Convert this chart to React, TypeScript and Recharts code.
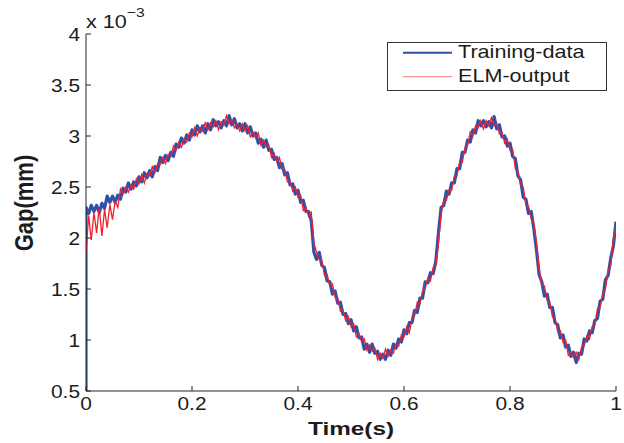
import React from 'react';
import { LineChart, Line, XAxis, YAxis, Legend, Label } from 'recharts';

// sampling grid of the recorded signal (seconds)
const SAMPLE_STEP = 0.005;
const trainingStartValue = 0.5;

// Gap values (x 10^-3 mm)
const trainingData = [
  2.30, 2.24, 2.32, 2.26, 2.32, 2.25, 2.34, 2.29, 2.41, 2.35,
  2.41, 2.35, 2.42, 2.38, 2.49, 2.45, 2.54, 2.48, 2.55, 2.51,
  2.60, 2.55, 2.64, 2.59, 2.66, 2.60, 2.70, 2.66, 2.79, 2.74,
  2.81, 2.76, 2.84, 2.80, 2.92, 2.89, 2.98, 2.93, 3.01, 2.96,
  3.06, 3.01, 3.10, 3.04, 3.10, 3.03, 3.12, 3.06, 3.16, 3.10,
  3.14, 3.08, 3.15, 3.10, 3.20, 3.11, 3.17, 3.08, 3.12, 3.05,
  3.12, 3.03, 3.09, 3.00, 3.03, 2.93, 2.97, 2.89, 2.96, 2.86,
  2.87, 2.77, 2.79, 2.69, 2.73, 2.62, 2.64, 2.52, 2.53, 2.43,
  2.47, 2.35, 2.37, 2.26, 2.26, 2.17, 1.86, 1.79, 1.86, 1.73,
  1.71, 1.58, 1.57, 1.45, 1.48, 1.36, 1.37, 1.25, 1.26, 1.16,
  1.20, 1.09, 1.13, 1.02, 1.03, 0.91, 0.96, 0.88, 0.96, 0.87,
  0.89, 0.81, 0.86, 0.81, 0.90, 0.85, 0.96, 0.92, 1.01, 0.98,
  1.10, 1.06, 1.17, 1.17, 1.29, 1.27, 1.41, 1.41, 1.57, 1.56,
  1.66, 1.65, 1.77, 2.05, 2.30, 2.32, 2.46, 2.43, 2.54, 2.54,
  2.68, 2.68, 2.84, 2.84, 2.96, 2.94, 3.06, 3.03, 3.15, 3.10,
  3.15, 3.09, 3.14, 3.08, 3.19, 3.07, 3.11, 2.99, 3.00, 2.90,
  2.93, 2.80, 2.78, 2.61, 2.57, 2.40, 2.38, 2.24, 2.26, 2.09,
  1.88, 1.64, 1.57, 1.43, 1.45, 1.32, 1.32, 1.17, 1.15, 1.02,
  1.05, 0.93, 0.95, 0.84, 0.88, 0.78, 0.87, 0.86, 1.01, 0.99,
  1.09, 1.07, 1.19, 1.21, 1.38, 1.40, 1.59, 1.63, 1.80, 1.92,
  2.16,
];

const elmOutput = [
  1.85, 2.22, 1.98, 2.25, 2.05, 2.30, 2.02, 2.28, 2.10, 2.33,
  2.18, 2.36, 2.30, 2.48, 2.43, 2.50, 2.45, 2.52, 2.48, 2.58,
  2.53, 2.62, 2.54, 2.63, 2.61, 2.70, 2.64, 2.73, 2.72, 2.79,
  2.73, 2.82, 2.80, 2.90, 2.86, 2.94, 2.89, 2.97, 2.94, 3.03,
  2.99, 3.08, 3.00, 3.08, 3.05, 3.13, 3.06, 3.13, 3.09, 3.15,
  3.06, 3.14, 3.11, 3.20, 3.12, 3.16, 3.08, 3.12, 3.05, 3.12,
  3.05, 3.10, 2.99, 3.04, 2.98, 3.03, 2.91, 2.96, 2.89, 2.91,
  2.79, 2.83, 2.75, 2.79, 2.67, 2.67, 2.55, 2.56, 2.46, 2.50,
  2.40, 2.42, 2.27, 2.30, 2.21, 2.25, 1.95, 1.86, 1.79, 1.78,
  1.63, 1.64, 1.53, 1.55, 1.42, 1.41, 1.28, 1.29, 1.19, 1.23,
  1.13, 1.16, 1.03, 1.06, 0.98, 1.01, 0.90, 0.95, 0.89, 0.92,
  0.81, 0.87, 0.82, 0.91, 0.84, 0.90, 0.87, 0.96, 0.94, 1.05,
  1.03, 1.13, 1.07, 1.21, 1.24, 1.37, 1.35, 1.48, 1.50, 1.61,
  1.58, 1.71, 1.73, 1.95, 2.24, 2.37, 2.37, 2.47, 2.47, 2.61,
  2.61, 2.75, 2.74, 2.88, 2.91, 3.04, 3.00, 3.10, 3.08, 3.15,
  3.07, 3.15, 3.10, 3.18, 3.10, 3.12, 3.02, 3.03, 2.93, 2.97,
  2.86, 2.87, 2.68, 2.65, 2.52, 2.50, 2.32, 2.31, 2.19, 2.14,
  1.95, 1.70, 1.53, 1.53, 1.39, 1.37, 1.23, 1.21, 1.08, 1.09,
  0.98, 1.00, 0.85, 0.88, 0.83, 0.88, 0.81, 0.93, 0.94, 1.04,
  1.01, 1.13, 1.15, 1.31, 1.32, 1.45, 1.50, 1.67, 1.73, 1.99,
  2.09,
];

const xTicks = [0, 0.2, 0.4, 0.6, 0.8, 1];
const yTicks = [0.5, 1, 1.5, 2, 2.5, 3, 3.5, 4];
const seriesNames = ['Training-data', 'ELM-output'];
const xLabel = 'Time(s)';
const yLabel = 'Gap(mm)';
const scaleBase = 'x 10';
const scaleExp = '\u22123';

const BLUE = '#3150a8';
const RED = '#f2202c';
const AXIS = '#262626';
const TEXT = '#1c1c1c';
const FONT = '"Liberation Sans", Arial, Helvetica, sans-serif';

const trainingSeries = [
  { t: 0, v: trainingStartValue },
  ...trainingData.map((v, i) => ({ t: i * SAMPLE_STEP, v })),
];
const elmSeries = elmOutput.map((v, i) => ({ t: i * SAMPLE_STEP, v }));

const XTick = (props: any) => {
  const { x, y, payload } = props;
  return (
    <text
      transform={`translate(${x},${y + 19}) scale(1.16,1)`}
      textAnchor="middle"
      fontSize={18}
      fontFamily={FONT}
      fill={TEXT}
    >
      {String(payload.value)}
    </text>
  );
};

const YTick = (props: any) => {
  const { x, y, payload } = props;
  return (
    <text
      transform={`translate(${x},${y + 6.5}) scale(1.16,1)`}
      textAnchor="end"
      fontSize={18}
      fontFamily={FONT}
      fill={TEXT}
    >
      {String(payload.value)}
    </text>
  );
};

const NoTick = (props: any) => <text x={props.x} y={props.y} fontSize={1} fill="none"></text>;

const LegendBox = () => (
  <svg width={220} height={49} style={{ display: 'block' }}>
    <rect x={0.5} y={0.5} width={219} height={48} fill="#fff" stroke="#333" strokeWidth={1} />
    <line x1={16} x2={65} y1={10.7} y2={10.7} stroke={BLUE} strokeWidth={2} />
    <text transform="translate(71,15.5) scale(1.2,1)" fontSize={18} fontFamily={FONT} fill={TEXT}>
      {seriesNames[0]}
    </text>
    <line x1={16} x2={65} y1={34.7} y2={34.7} stroke={RED} strokeWidth={1} strokeOpacity={0.6} />
    <text transform="translate(71,39.8) scale(1.2,1)" fontSize={18} fontFamily={FONT} fill={TEXT}>
      {seriesNames[1]}
    </text>
  </svg>
);

export default function App() {
  return (
    <div style={{ position: 'absolute', left: 0, top: 0, background: '#fff' }}>
      <LineChart
        width={624}
        height={443}
        margin={{ top: 34, right: 8, bottom: 0, left: 0 }}
        style={{ background: '#fff' }}
      >
        <XAxis
          xAxisId="main"
          dataKey="t"
          type="number"
          domain={[0, 1]}
          ticks={xTicks}
          allowDataOverflow
          height={52}
          tickSize={-5}
          tickMargin={5}
          tickLine={{ stroke: AXIS, strokeWidth: 1 }}
          axisLine={{ stroke: AXIS, strokeWidth: 1 }}
          tick={XTick}
        >
          <Label
            content={() => (
              <text
                transform="translate(351,435) scale(1.28,1)"
                textAnchor="middle"
                fontSize={19}
                fontWeight="bold"
                fontFamily={FONT}
                fill={TEXT}
              >
                {xLabel}
              </text>
            )}
          />
        </XAxis>
        <XAxis
          xAxisId="top"
          dataKey="t"
          type="number"
          domain={[0, 1]}
          ticks={xTicks}
          allowDataOverflow
          orientation="top"
          height={0}
          tickSize={-5}
          tickMargin={0}
          tickLine={{ stroke: AXIS, strokeWidth: 1 }}
          axisLine={{ stroke: AXIS, strokeWidth: 1 }}
          tick={NoTick}
        />
        <YAxis
          yAxisId="main"
          type="number"
          domain={[0.5, 4]}
          ticks={yTicks}
          allowDataOverflow
          width={86}
          tickSize={-5}
          tickMargin={11}
          tickLine={{ stroke: AXIS, strokeWidth: 1 }}
          axisLine={{ stroke: AXIS, strokeWidth: 1 }}
          tick={YTick}
        >
          <Label
            content={() => (
              <text
                transform="translate(33,203) rotate(-90) scale(1,1.15)"
                textAnchor="middle"
                fontSize={22}
                fontWeight="bold"
                fontFamily={FONT}
                fill={TEXT}
              >
                {yLabel}
              </text>
            )}
          />
          <Label
            content={() => (
              <text
                transform="translate(86,28) scale(1.2,1)"
                fontSize={18}
                fontFamily={FONT}
                fill={TEXT}
              >
                {scaleBase}
                <tspan fontSize={13} dy={-11}>
                  {scaleExp}
                </tspan>
              </text>
            )}
          />
        </YAxis>
        <YAxis
          yAxisId="right"
          type="number"
          domain={[0.5, 4]}
          ticks={yTicks}
          allowDataOverflow
          orientation="right"
          width={0}
          tickSize={-5}
          tickMargin={0}
          tickLine={{ stroke: AXIS, strokeWidth: 1 }}
          axisLine={{ stroke: AXIS, strokeWidth: 1 }}
          tick={NoTick}
        />
        <Legend
          layout="horizontal"
          verticalAlign="middle"
          align="center"
          wrapperStyle={{ left: 387, top: 42, width: 220, height: 49 }}
          content={() => <LegendBox />}
        />
        <Line
          xAxisId="main"
          yAxisId="main"
          data={trainingSeries}
          dataKey="v"
          name={seriesNames[0]}
          type="linear"
          stroke={BLUE}
          strokeWidth={3.2}
          strokeLinejoin="round"
          dot={false}
          activeDot={false}
          isAnimationActive={false}
        />
        <Line
          xAxisId="main"
          yAxisId="main"
          data={elmSeries}
          dataKey="v"
          name={seriesNames[1]}
          type="linear"
          stroke={RED}
          strokeWidth={1.3}
          dot={false}
          activeDot={false}
          isAnimationActive={false}
        />
      </LineChart>
    </div>
  );
}
